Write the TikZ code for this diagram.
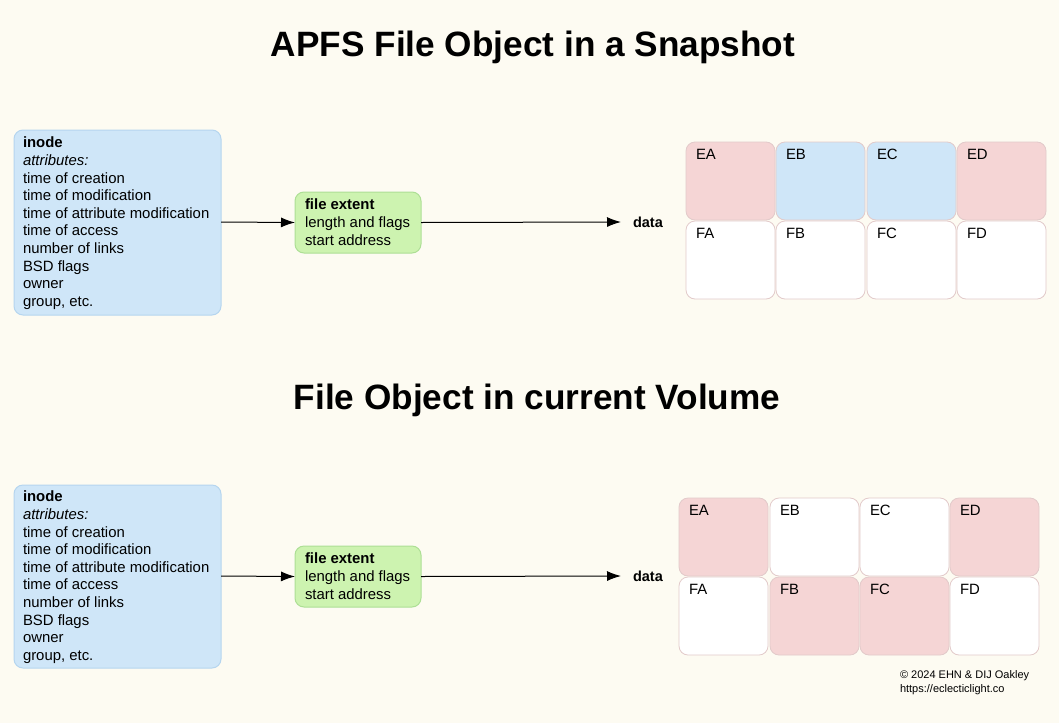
\documentclass[tikz,border=0pt]{standalone}
\usepackage{fontspec}
\setmainfont{Liberation Sans}
\usetikzlibrary{calc,arrows.meta}
\definecolor{bgcol}{HTML}{FDFBF2}
\definecolor{inodefill}{HTML}{CFE6F8}
\definecolor{inodedraw}{HTML}{B5D5EF}
\definecolor{extfill}{HTML}{CDF3B0}
\definecolor{extdraw}{HTML}{ADDF95}
\definecolor{usedfill}{HTML}{F5D5D5}
\definecolor{celldraw}{HTML}{E2CACA}
\begin{document}
\begin{tikzpicture}[x=1pt,y=-1pt,every node/.style={outer sep=0pt}]
\tikzstyle{title}=[font=\fontsize{35.2}{40}\selectfont\bfseries]
\tikzstyle{body}=[font=\fontsize{14.9}{17.6}\selectfont,align=left]
\tikzstyle{inode}=[draw=inodedraw,fill=inodefill,rounded corners=9pt,line width=1pt]
\tikzstyle{extent}=[draw=extdraw,fill=extfill,rounded corners=9pt,line width=1pt]
\tikzstyle{cell}=[draw=celldraw,rounded corners=9pt,line width=0.8pt]
\tikzstyle{link}=[line width=1pt,-{Latex[length=14pt,width=10pt]}]
\fill [bgcol] (0,0) rectangle (1059,723);

% snapshot
\node (title1) [title] at (533,47) {APFS File Object in a Snapshot};
\draw [inode] (14,130) rectangle (221,315);
\node (inode1) [body,anchor=north west,inner sep=0pt] at (23,137) {\textbf{inode}\\\textit{attributes:}\\time of creation\\time of modification\\time of attribute modification\\time of access\\number of links\\BSD flags\\owner\\group, etc.};
\node (ext1) [extent,minimum width=126pt,minimum height=61pt] at (358,222.5) {};
\node [body,anchor=north west,inner sep=0pt] at (305,199) {\textbf{file extent}\\length and flags\\start address};
\node (data1) [body,font=\fontsize{14.5}{17}\selectfont\bfseries,anchor=west,inner sep=0pt] at (633,222) {data};
\coordinate (in1) at (221,222);
\draw [link] (in1) -- (ext1.west);
\draw [link] (ext1.east) -- ($(data1.west)+(-12,0)$);

\foreach \x/\l/\c in {686/EA/usedfill,776/EB/inodefill,867/EC/inodefill,957/ED/usedfill}{
  \draw [cell,fill=\c] (\x,142) rectangle ++(89,78);
  \node [body,anchor=north west,inner sep=0pt] at (\x+10,149) {\l};
}
\foreach \x/\l in {686/FA,776/FB,867/FC,957/FD}{
  \draw [cell,fill=white] (\x,221) rectangle ++(89,78);
  \node [body,anchor=north west,inner sep=0pt] at (\x+10,228) {\l};
}

% current volume
\node (title2) [title] at (537,400) {File Object in current Volume};
\draw [inode] (14,485) rectangle (221,668);
\node (inode2) [body,anchor=north west,inner sep=0pt] at (23,491) {\textbf{inode}\\\textit{attributes:}\\time of creation\\time of modification\\time of attribute modification\\time of access\\number of links\\BSD flags\\owner\\group, etc.};
\node (ext2) [extent,minimum width=126pt,minimum height=61pt] at (358,576.5) {};
\node [body,anchor=north west,inner sep=0pt] at (305,553) {\textbf{file extent}\\length and flags\\start address};
\node (data2) [body,font=\fontsize{14.5}{17}\selectfont\bfseries,anchor=west,inner sep=0pt] at (633,576) {data};
\coordinate (in2) at (221,576);
\draw [link] (in2) -- (ext2.west);
\draw [link] (ext2.east) -- ($(data2.west)+(-12,0)$);

\foreach \x/\l/\c in {679/EA/usedfill,770/EB/white,860/EC/white,950/ED/usedfill}{
  \draw [cell,fill=\c] (\x,498) rectangle ++(89,78);
  \node [body,anchor=north west,inner sep=0pt] at (\x+10,505) {\l};
}
\foreach \x/\l/\c in {679/FA/white,770/FB/usedfill,860/FC/usedfill,950/FD/white}{
  \draw [cell,fill=\c] (\x,577) rectangle ++(89,78);
  \node [body,anchor=north west,inner sep=0pt] at (\x+10,584) {\l};
}

\node (credit) [font=\fontsize{11}{14}\selectfont,align=left,anchor=north west,inner sep=0pt] at (900,671) {© 2024 EHN \& DIJ Oakley\\https://eclecticlight.co};
\end{tikzpicture}
\end{document}
